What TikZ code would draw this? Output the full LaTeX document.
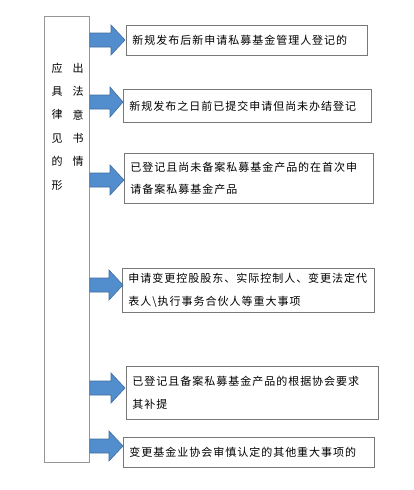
\documentclass[tikz,border=0pt]{standalone}
\usepackage{fontspec}
\newfontfamily\cjk[LetterSpace=9]{Noto Sans CJK SC}
\newfontfamily\cjkplain{Noto Sans CJK SC}
\definecolor{arrfill}{RGB}{82,142,205}
\definecolor{arrline}{RGB}{64,110,160}
\definecolor{boxline}{RGB}{120,120,120}
\definecolor{leftline}{RGB}{150,150,150}
\tikzset{
  itembox/.style={draw=boxline, line width=0.8pt, anchor=north west, inner xsep=6pt, inner ysep=0pt,
    font=\cjk\fontsize{11}{22.5}\selectfont, align=left},
  blockarr/.style={fill=arrfill, draw=arrline, line width=0.6pt},
  vchar/.style={font=\cjkplain\fontsize{11}{11}\selectfont, inner sep=0pt}
}
\begin{document}
\begin{tikzpicture}[x=1pt,y=-1pt]
\useasboundingbox (0,0) rectangle (414,490);
% left box
\node[draw=leftline, line width=0.8pt, minimum width=45pt, minimum height=446pt, anchor=north west, inner sep=0pt] (L) at (44,16) {};
\foreach \c [count=\i] in {应,具,律,见,的,形}{
  \node[vchar] (l\i) at (57,{68+23.4*(\i-1)}) {\c};
}
\foreach \c [count=\i] in {出,法,意,书,情}{
  \node[vchar] (r\i) at (78,{68+23.4*(\i-1)}) {\c};
}
% item boxes
\node[itembox, text width=229pt, minimum height=30pt] (b1) at (126,25)
  {新规发布后新申请私募基金管理人登记的};
\node[itembox, text width=236pt, minimum height=33pt] (b2) at (123,89)
  {新规发布之日前已提交申请但尚未办结登记};
\node[itembox, text width=237pt, minimum height=50pt] (b3) at (124,153)
  {已登记且尚未备案私募基金产品的在首次申\\请备案私募基金产品};
\node[itembox, text width=240pt, minimum height=44pt] (b4) at (122,268)
  {申请变更控股股东、实际控制人、变更法定代\\表人\textbackslash 执行事务合伙人等重大事项};
\node[itembox, text width=240pt, minimum height=53pt] (b5) at (126,366)
  {已登记且备案私募基金产品的根据协会要求\\其补提};
\node[itembox, text width=239pt, minimum height=30pt] (b6) at (123,437)
  {变更基金业协会审慎认定的其他重大事项的};
% block arrows
\foreach \t/\tx/\hb in {40/125/111, 102/123/110, 180/124/110, 285/123/109, 388/125/111, 446/123/109}{
  \draw[blockarr] (L.east |- 0,\t-7) -- (\hb,\t-7) -- (\hb,\t-15) -- (\tx,\t) -- (\hb,\t+15) -- (\hb,\t+7) -- (L.east |- 0,\t+7) -- cycle;
}
\end{tikzpicture}
\end{document}
